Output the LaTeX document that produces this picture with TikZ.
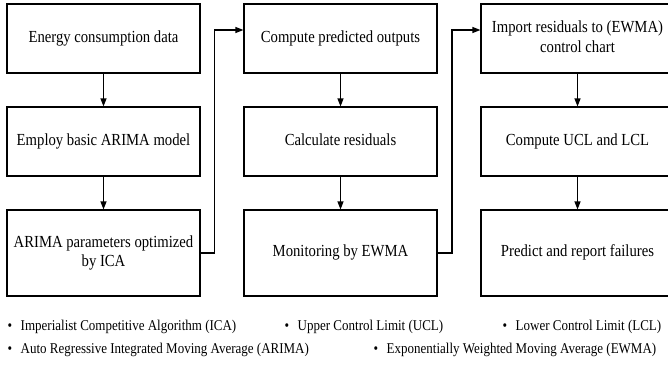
\documentclass[tikz,border=0pt]{standalone}
\usepackage{fontspec}
\usepackage{graphicx}
\setmainfont{Liberation Serif}
\usetikzlibrary{arrows.meta}
% text in this figure is set slightly tall
\newcommand{\tallset}[1]{\scalebox{1}[1.15]{\begin{tabular}{@{}c@{}}#1\end{tabular}}}
\newcommand{\tallline}[1]{\scalebox{1}[1.15]{#1}}
\begin{document}
\begin{tikzpicture}[x=1pt,y=1pt,
  stagebox/.style={draw=black, line width=1.1pt, minimum width=193pt, inner sep=0pt,
    font=\fontsize{14.7}{17}\selectfont},
  shortbox/.style={stagebox, minimum height=69pt},
  tallbox/.style={stagebox, minimum height=86pt},
  flow/.style={line width=1.1pt, -{Triangle[length=8pt,width=6pt]}},
  legend/.style={anchor=base west, inner sep=0pt, font=\fontsize{13}{15}\selectfont}]
\useasboundingbox (0,0) rectangle (668,-364);
\fill[white] (0,0) rectangle (668,-364);

% column 1
\node[shortbox] (r1c1) at (103.5,-38.5) {\tallset{Energy consumption data}};
\node[shortbox] (r2c1) at (103.5,-141.5) {\tallset{Employ basic ARIMA model}};
\node[tallbox]  (r3c1) at (103.5,-253) {\tallset{ARIMA parameters optimized\\by ICA}};
% column 2
\node[shortbox] (r1c2) at (340.5,-38.5) {\tallset{Compute predicted outputs}};
\node[shortbox] (r2c2) at (340.5,-141.5) {\tallset{Calculate residuals}};
\node[tallbox]  (r3c2) at (340.5,-253) {\tallset{Monitoring by EWMA}};
% column 3
\node[shortbox] (r1c3) at (577.5,-38.5) {\tallset{Import residuals to (EWMA)\\control chart}};
\node[shortbox] (r2c3) at (577.5,-141.5) {\tallset{Compute UCL and LCL}};
\node[tallbox]  (r3c3) at (577.5,-253) {\tallset{Predict and report failures}};

% arrows inside each column
\draw[flow] (r1c1) -- (r2c1);
\draw[flow] (r2c1) -- (r3c1);
\draw[flow] (r1c2) -- (r2c2);
\draw[flow] (r2c2) -- (r3c2);
\draw[flow] (r1c3) -- (r2c3);
\draw[flow] (r2c3) -- (r3c3);

% links from the bottom of one column to the top of the next
\coordinate (k1) at (214.5,-30);
\coordinate (k2) at (452,-30);
\draw[flow] (r3c1.east) -| (k1) -- (k1 -| r1c2.west);
\draw[flow] (r3c2.east) -| (k2) -- (k2 -| r1c3.west);

% abbreviations
\node[legend] (a1) at (7.5,-330.5) {\tallline{\textbullet\hspace{8.5pt}Imperialist Competitive Algorithm (ICA)}};
\node[legend] (a2) at (284.5,-330.5) {\tallline{\textbullet\hspace{8.5pt}Upper Control Limit (UCL)}};
\node[legend] (a3) at (502.5,-330.5) {\tallline{\textbullet\hspace{8.5pt}Lower Control Limit (LCL)}};
\node[legend] (a4) at (7.5,-353) {\tallline{\textbullet\hspace{8.5pt}Auto Regressive Integrated Moving Average (ARIMA)}};
\node[legend] (a5) at (373.5,-353) {\tallline{\textbullet\hspace{8.5pt}Exponentially Weighted Moving Average (EWMA)}};
\end{tikzpicture}
\end{document}
